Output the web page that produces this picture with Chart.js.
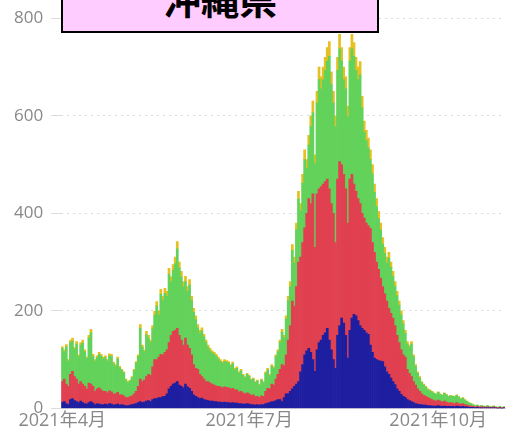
<!DOCTYPE html>
<html>
<head>
<meta charset="utf-8">
<script src="https://cdn.jsdelivr.net/npm/chart.js@4.4.0/dist/chart.umd.min.js"></script>
<style>
  html, body { margin: 0; padding: 0; background: #fff; overflow: hidden; }
  #wrap { position: relative; width: 514px; height: 434px; }
  #titleBox {
    position: absolute; left: 61px; top: -40px; width: 318px; height: 73px;
    box-sizing: border-box; border: 2px solid #000; background: #ffccff; z-index: 2;
  }
  #titleBox span {
    position: absolute; left: 0; right: 0; top: 17px; text-align: center;
    font: bold 38px "Noto Sans CJK JP", sans-serif; line-height: 38px; color: #000;
  }
</style>
</head>
<body>
<div id="wrap">
  <canvas id="chart"></canvas>
  <div id="titleBox"><span>沖縄県</span></div>
</div>
<script>
// daily counts from 2021-04-01, stacked bottom to top
const startDate = "2021-04-01"
const tickDates = ["2021-04-01", "2021-07-01", "2021-10-01"]
const tickTexts = ["2021年4月", "2021年7月", "2021年10月"]
const yTicks = [0, 200, 400, 600, 800]

const blue = [
  12,14,10,8,18,20,16,14,12,15,12,10,9,12,14,11,8,10,9,8,8,
  9,8,10,9,7,8,9,7,8,7,6,6,7,8,9,10,12,14,12,13,15,16,14,18,20,
  20,22,22,24,25,30,40,45,50,52,55,48,45,42,50,44,41,35,28,25,22,20,21,18,17,
  16,15,15,14,14,13,13,12,13,12,12,11,12,11,11,10,10,9,9,10,9,8,8,7,8,7,8,8,10,11,
  12,14,14,16,18,18,14,22,30,30,35,40,45,50,55,75,90,110,118,123,115,100,76,120,135,
  140,150,155,164,140,120,100,82,150,170,185,175,150,103,160,185,193,190,180,170,164,160,155,152,130,115,103,100,98,97,96,85,75,70,62,55,49,40,35,29,25,22,18,16,14,
  12,10,9,8,8,7,7,6,6,5,5,5,6,5,4,5,4,4,4,4,3,5,4,3,4,3,3,2,2,2,1,2,1,1,1,1,1,1,1,1,1,0,1,0,1
]
const red = [
  43,46,40,37,52,56,49,46,38,40,38,35,31,40,36,34,27,30,33,30,27,
  26,24,26,25,23,22,24,21,20,19,16,16,17,18,21,25,33,46,43,45,50,54,54,67,80,
  80,83,89,86,90,90,95,105,108,108,109,102,95,88,94,86,82,75,62,57,58,50,44,42,38,
  39,37,35,34,32,32,31,30,31,31,30,29,29,27,27,24,25,23,21,22,21,19,20,17,17,15,18,17,25,30,
  28,36,34,44,52,62,76,66,80,110,135,180,165,200,245,235,250,260,282,307,305,340,254,320,315,
  315,310,310,306,310,300,300,258,320,336,315,305,300,277,310,295,267,255,250,250,236,230,225,223,239,225,217,200,187,170,154,150,145,135,133,130,121,110,100,91,85,83,62,56,51,
  43,38,31,27,22,20,18,16,14,13,11,10,11,10,9,10,9,7,8,7,7,7,6,6,6,5,4,4,3,2,2,2,2,2,2,1,2,1,1,2,1,1,1,1,1
]
const green = [
  68,56,76,52,65,62,56,72,56,75,84,71,62,92,105,62,62,64,69,69,67,
  69,65,72,73,62,57,68,55,50,47,36,31,32,37,47,58,61,104,70,58,86,74,67,78,91,
  110,87,123,111,121,110,140,109,125,137,163,138,129,119,116,110,130,111,107,100,85,84,94,86,80,
  70,66,64,63,61,56,52,51,52,52,51,47,51,41,44,38,42,36,33,38,36,31,32,29,31,26,32,28,37,38,
  27,37,34,46,46,55,66,56,73,81,80,104,88,116,129,95,122,140,92,110,158,166,172,186,224,
  200,214,228,242,272,244,226,238,223,231,212,194,205,218,242,257,262,248,244,264,216,177,169,159,141,141,123,114,104,99,87,83,78,103,94,86,80,81,77,72,63,49,52,53,67,
  51,38,32,27,23,21,18,16,16,16,15,14,16,14,14,16,15,13,14,14,14,15,13,10,11,9,7,5,5,4,3,3,2,3,2,2,3,2,1,2,1,1,2,1,1
]
const yellow = [
  4,4,5,3,5,6,4,5,4,5,6,4,3,6,7,4,3,4,4,4,3,
  4,3,4,4,3,3,4,3,2,2,2,2,2,2,3,3,4,8,5,4,7,6,5,7,8,
  9,8,10,9,10,10,12,11,12,13,15,12,12,11,11,10,11,9,8,8,7,6,6,6,5,
  5,5,4,4,4,4,4,3,4,3,3,3,3,3,3,3,3,2,2,2,2,2,2,2,2,2,2,2,3,3,
  3,3,3,4,4,5,6,6,7,9,10,12,12,14,16,15,18,20,18,20,22,24,18,24,26,
  25,26,27,28,30,26,24,22,27,30,28,26,25,22,28,30,28,27,26,27,24,22,21,20,20,19,17,16,15,14,13,12,12,12,11,10,10,9,8,8,7,6,5,5,5,
  4,4,3,3,2,2,2,2,2,1,1,1,1,1,1,1,1,1,1,1,1,1,1,1,1,1,1,1,0,0,0,0,0,0,0,0,0,0,0,0,0,0,0,0,0
]

const labels = []
const d0 = new Date(startDate + "T00:00:00Z")
for (let i = 0; i < blue.length; i++) {
    const d = new Date(d0.getTime() + i * 86400000)
    labels.push(d.toISOString().slice(0, 10))
}

const font = '"Open Sans", "Noto Sans CJK JP", sans-serif'
const mkSet = (label, data, color) => ({
    label: label,
    data: data,
    backgroundColor: color,
    borderWidth: 0,
    barPercentage: 1,
    categoryPercentage: 1
})

new Chart(document.getElementById("chart").getContext('2d'), {
    type: 'bar',
    data: {
        labels: labels,
        datasets: [
            mkSet("blue", blue, "#1e1ea0"),
            mkSet("red", red, "#e0404f"),
            mkSet("green", green, "#62d25a"),
            mkSet("yellow", yellow, "#e6c020")
        ]
    },
    options: {
        responsive: true,
        maintainAspectRatio: false,
        animation: false,
        layout: { padding: { top: 7, right: 9, bottom: 0, left: 6 } },
        plugins: { legend: { display: false }, tooltip: { enabled: false } },
        scales: {
            x: {
                stacked: true,
                grid: { display: false, drawTicks: false },
                border: { display: true, color: "#d8d8d8" },
                ticks: {
                    autoSkip: false,
                    maxRotation: 0,
                    padding: 2,
                    color: "#888",
                    font: { family: font, size: 18 },
                    callback: (value, index) => {
                        const k = tickDates.indexOf(labels[index])
                        return k >= 0 ? tickTexts[k] : null
                    }
                }
            },
            y: {
                stacked: true,
                min: yTicks[0],
                max: yTicks[yTicks.length - 1],
                grid: { color: "#dcdcdc", tickLength: 10 },
                border: { display: false, dash: [2, 4] },
                ticks: {
                    stepSize: 200,
                    padding: 8,
                    color: "#888",
                    font: { family: font, size: 17 }
                }
            }
        }
    }
});
</script>
</body>
</html>
